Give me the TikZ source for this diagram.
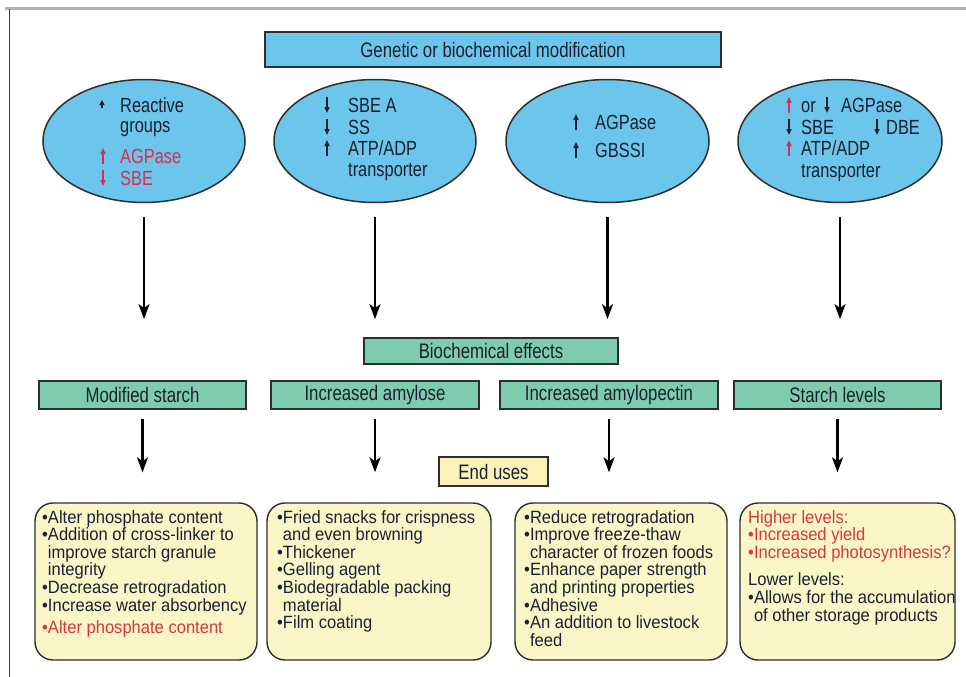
\documentclass[tikz,border=0pt]{standalone}
\usepackage{fontspec}
\setmainfont{Liberation Sans}
\newfontfamily\condfont{Liberation Sans}[FakeStretch=0.8]
\newfontfamily\bodyfont{Liberation Sans}[FakeStretch=0.93]
\usetikzlibrary{shapes.geometric,arrows.meta}
\definecolor{skyfill}{HTML}{6CC5EA}
\definecolor{mintfill}{HTML}{7FCBAE}
\definecolor{creamfill}{HTML}{FAF6C8}
\definecolor{endfill}{HTML}{FAF2BA}
\definecolor{edge}{HTML}{2E2E2E}
\definecolor{ink}{HTML}{1B2130}
\definecolor{hired}{HTML}{D82E52}
\definecolor{boxred}{HTML}{D8363C}
\newcommand{\mybul}{\textbullet}
\newcommand{\myind}{\phantom{\textbullet}}
\tikzset{
  bluebox/.style={draw=edge, line width=1.4pt, fill=skyfill, inner sep=0pt, text=ink, font=\condfont\fontsize{21}{23}\selectfont},
  blueell/.style={ellipse, draw=edge, line width=1.5pt, fill=skyfill, inner sep=0pt},
  greenbox/.style={draw=edge, line width=1.7pt, fill=mintfill, inner sep=0pt, text=ink, font=\condfont\fontsize{21}{23}\selectfont},
  endbox/.style={draw=edge, line width=1.7pt, fill=endfill, inner sep=0pt, text=ink, font=\condfont\fontsize{21}{23}\selectfont},
  usebox/.style={draw=edge, line width=1.4pt, fill=creamfill, rounded corners=18pt, inner sep=0pt, minimum height=157pt},
  elltext/.style={anchor=base west, inner sep=0pt, text=ink, font=\condfont\fontsize{20.5}{22}\selectfont},
  usetext/.style={anchor=north west, inner sep=0pt, align=left, text=ink, font=\bodyfont\fontsize{17.8}{17.6}\selectfont},
  arr/.style={draw=black, line width=2.2pt, -{Stealth[length=15pt,width=11pt,inset=4pt]}},
  upmark/.style={line width=1.4pt, -{Triangle[length=6pt,width=5pt]}},
}
\newcommand{\markup}[3]{\draw[upmark,#3] (#1,#2+8) -- (#1,#2-8);}
\newcommand{\markdown}[3]{\draw[upmark,#3] (#1,#2-8) -- (#1,#2+8);}
\begin{document}
\begin{tikzpicture}[x=1pt,y=-1pt]
\useasboundingbox (0,0) rectangle (966,677);
\fill[white] (0,0) rectangle (966,677);
% frame
\draw[gray!60, line width=3pt] (5,9) -- (966,9);
\draw[black!75, line width=1pt] (9,9) -- (9,677);

% top box
\node[bluebox, minimum width=456pt, minimum height=35pt] (gen) at (493,49.5) {Genetic or biochemical modification};

% ellipses
\node[blueell, minimum width=202pt, minimum height=123pt] (e1) at (144,141) {};
\node[blueell, minimum width=202pt, minimum height=123pt] (e2) at (375,141) {};
\node[blueell, minimum width=203pt, minimum height=123pt] (e3) at (607.5,141) {};
\node[blueell, minimum width=204pt, minimum height=123pt] (e4) at (840,141) {};

% ellipse 1 text
\node[elltext] (t1a) at (120,112) {Reactive};
\node[elltext] (t1b) at (120,132) {groups};
\node[elltext, text=hired] (t1c) at (120,163) {AGPase};
\node[elltext, text=hired] (t1d) at (120,185) {SBE};
\draw[ink, line width=1.3pt, -{Triangle[length=5pt,width=5pt]}] (102,108) -- (102,100);
\markup{103}{156}{hired}
\markdown{103}{178}{hired}

% ellipse 2 text
\node[elltext] (t2a) at (348,112) {SBE A};
\node[elltext] (t2b) at (348,134) {SS};
\node[elltext] (t2c) at (348,155) {ATP/ADP};
\node[elltext] (t2d) at (348,176) {transporter};
\markdown{327}{105}{ink}
\markdown{327}{127}{ink}
\markup{327}{148}{ink}

% ellipse 3 text
\node[elltext] (t3a) at (595,129) {AGPase};
\node[elltext] (t3b) at (595,157) {GBSSI};
\markup{576}{122}{ink}
\markup{576}{150}{ink}

% ellipse 4 text
\node[elltext] (t4a) at (801,112) {or};
\node[elltext] (t4b) at (841,112) {AGPase};
\node[elltext] (t4c) at (801,134) {SBE};
\node[elltext] (t4d) at (886,134) {DBE};
\node[elltext] (t4e) at (801,155) {ATP/ADP};
\node[elltext] (t4f) at (801,177) {transporter};
\markup{789}{105}{hired}
\markdown{827}{105}{ink}
\markdown{789}{127}{ink}
\markdown{877}{127}{ink}
\markup{789}{148}{hired}

% biochemical effects
\node[greenbox, minimum width=254pt, minimum height=26pt] (bio) at (491,351) {Biochemical effects};

% green boxes
\node[greenbox, minimum width=207pt, minimum height=28pt] (g1) at (142.5,395) {Modified starch};
\node[greenbox, minimum width=208pt, minimum height=28pt] (g2) at (375,395) {Increased amylose};
\node[greenbox, minimum width=218pt, minimum height=28pt] (g3) at (609,395) {Increased amylopectin};
\node[greenbox, minimum width=207pt, minimum height=28pt] (g4) at (837.5,395) {Starch levels};

% arrows ellipse -> effects
\foreach \i in {1,2,3,4}{
  \draw[arr, shorten <=14pt, shorten >=61pt] (e\i.south) -- (e\i.south |- g\i.north);
}

% end uses
\node[endbox, minimum width=109pt, minimum height=29pt] (endu) at (493.5,471.5) {End uses};

% use boxes
\node[usebox, minimum width=222pt] (y1) at (146,581.5) {};
\node[usebox, minimum width=224pt] (y2) at (379,581.5) {};
\node[usebox, minimum width=212pt] (y3) at (621,581.5) {};
\node[usebox, minimum width=215pt] (y4) at (847.5,581.5) {};

% arrows effects -> uses
\foreach \i in {1,2,3,4}{
  \draw[arr, shorten <=9pt, shorten >=30pt] (g\i.south) -- (g\i.south |- y\i.north);
}

% use texts
\node[usetext] (u1) at (42,510) {\mybul Alter phosphate content\\
\mybul Addition of cross-linker to\\
\myind improve starch granule\\
\myind integrity\\
\mybul Decrease retrogradation\\
\mybul Increase water absorbency\\[5pt]
\textcolor{boxred}{\mybul Alter phosphate content}};

\node[usetext] (u2) at (277,510) {\mybul Fried snacks for crispness\\
\myind and even browning\\
\mybul Thickener\\
\mybul Gelling agent\\
\mybul Biodegradable packing\\
\myind material\\
\mybul Film coating};

\node[usetext] (u3) at (524,510) {\mybul Reduce retrogradation\\
\mybul Improve freeze-thaw\\
\myind character of frozen foods\\
\mybul Enhance paper strength\\
\myind and printing properties\\
\mybul Adhesive\\
\mybul An addition to livestock\\
\myind feed};

\node[usetext] (u4) at (748,510) {\textcolor{boxred}{Higher levels:}\\
\textcolor{boxred}{\mybul Increased yield}\\
\textcolor{boxred}{\mybul Increased photosynthesis?}\\[10pt]
Lower levels:\\
\mybul Allows for the accumulation\\
\myind of other storage products};
\end{tikzpicture}
\end{document}
